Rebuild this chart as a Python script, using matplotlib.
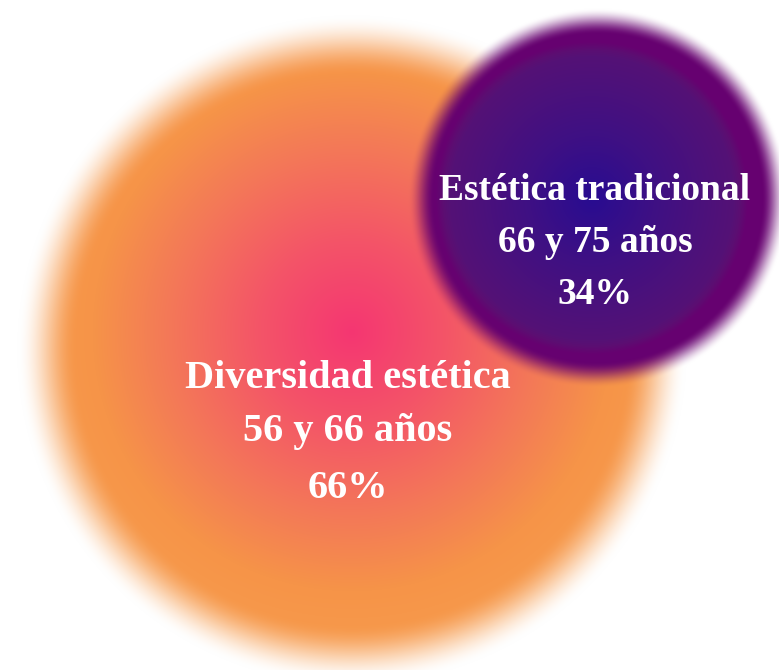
import matplotlib
matplotlib.use('Agg')
import numpy as np
import matplotlib.pyplot as plt

OUTPUT_FILE = "out.png"
W, H = 779, 670

# data
groups = ["Diversidad estética", "Estética tradicional"]
age_ranges = ["56 y 66 años", "66 y 75 años"]
shares = [66, 34]

# layout (pixel space, y down)
centers = [(352, 350), (598, 198)]
radii = [305, 177]
blur = [30, 13]
text_lines_y = [(378, 432, 489), (190, 243, 295)]
text_sizes = [29, 27]


def smooth(edge0, edge1, x):
    t = np.clip((x - edge0) / (edge1 - edge0), 0, 1)
    return t * t * (3 - 2 * t)


def gradient(t, stops):
    pos = [s[0] for s in stops]
    out = np.zeros(t.shape + (3,))
    for c in range(3):
        out[..., c] = np.interp(t, pos, [s[1][c] for s in stops]) / 255.0
    return out


yy, xx = np.mgrid[0:H, 0:W] + 0.5

# orange blob
cx, cy = centers[0]
r = np.hypot(xx - cx, yy - (cy - 18)) / radii[0]
rgb_o = gradient(r, [(0.0, (245, 54, 114)), (0.3, (243, 84, 104)),
                     (0.6, (243, 120, 88)), (0.85, (246, 148, 72)), (1.2, (247, 160, 80))])
r_edge = np.hypot(xx - cx, yy - cy)
a_o = 1 - smooth(radii[0] - blur[0], radii[0] + blur[0], r_edge)

# purple blob
px, py = centers[1]
rp = np.hypot(xx - px, yy - py)
tp = np.hypot(xx - (px - 6), yy - py) / radii[1]
rgb_p = gradient(tp, [(0.0, (40, 12, 145)), (0.35, (62, 16, 132)), (0.8, (84, 18, 118)),
                      (0.84, (92, 14, 114)), (0.88, (102, 2, 112)), (1.2, (104, 0, 112))])
a_p = 1 - smooth(radii[1] - blur[1], radii[1] + blur[1], rp)

img = np.ones((H, W, 3))
img = img * (1 - a_o[..., None]) + rgb_o * a_o[..., None]
img = img * (1 - a_p[..., None]) + rgb_p * a_p[..., None]

fig = plt.figure(figsize=(W / 100, H / 100), dpi=100)
ax = fig.add_axes([0, 0, 1, 1])
ax.imshow(img, extent=(0, W, H, 0), interpolation="bilinear")
ax.set_xlim(0, W)
ax.set_ylim(H, 0)
ax.axis("off")

for i in range(len(groups)):
    lines = [groups[i], age_ranges[i], f"{shares[i]}%"]
    tx = centers[i][0] - 4 if i == 0 else centers[i][0] - 3
    for line, y in zip(lines, text_lines_y[i]):
        ax.text(tx, y, line, ha="center", va="center", color="white",
                fontsize=text_sizes[i], fontweight="bold", family="Liberation Serif")

fig.savefig(OUTPUT_FILE, dpi=100)
plt.close(fig)
